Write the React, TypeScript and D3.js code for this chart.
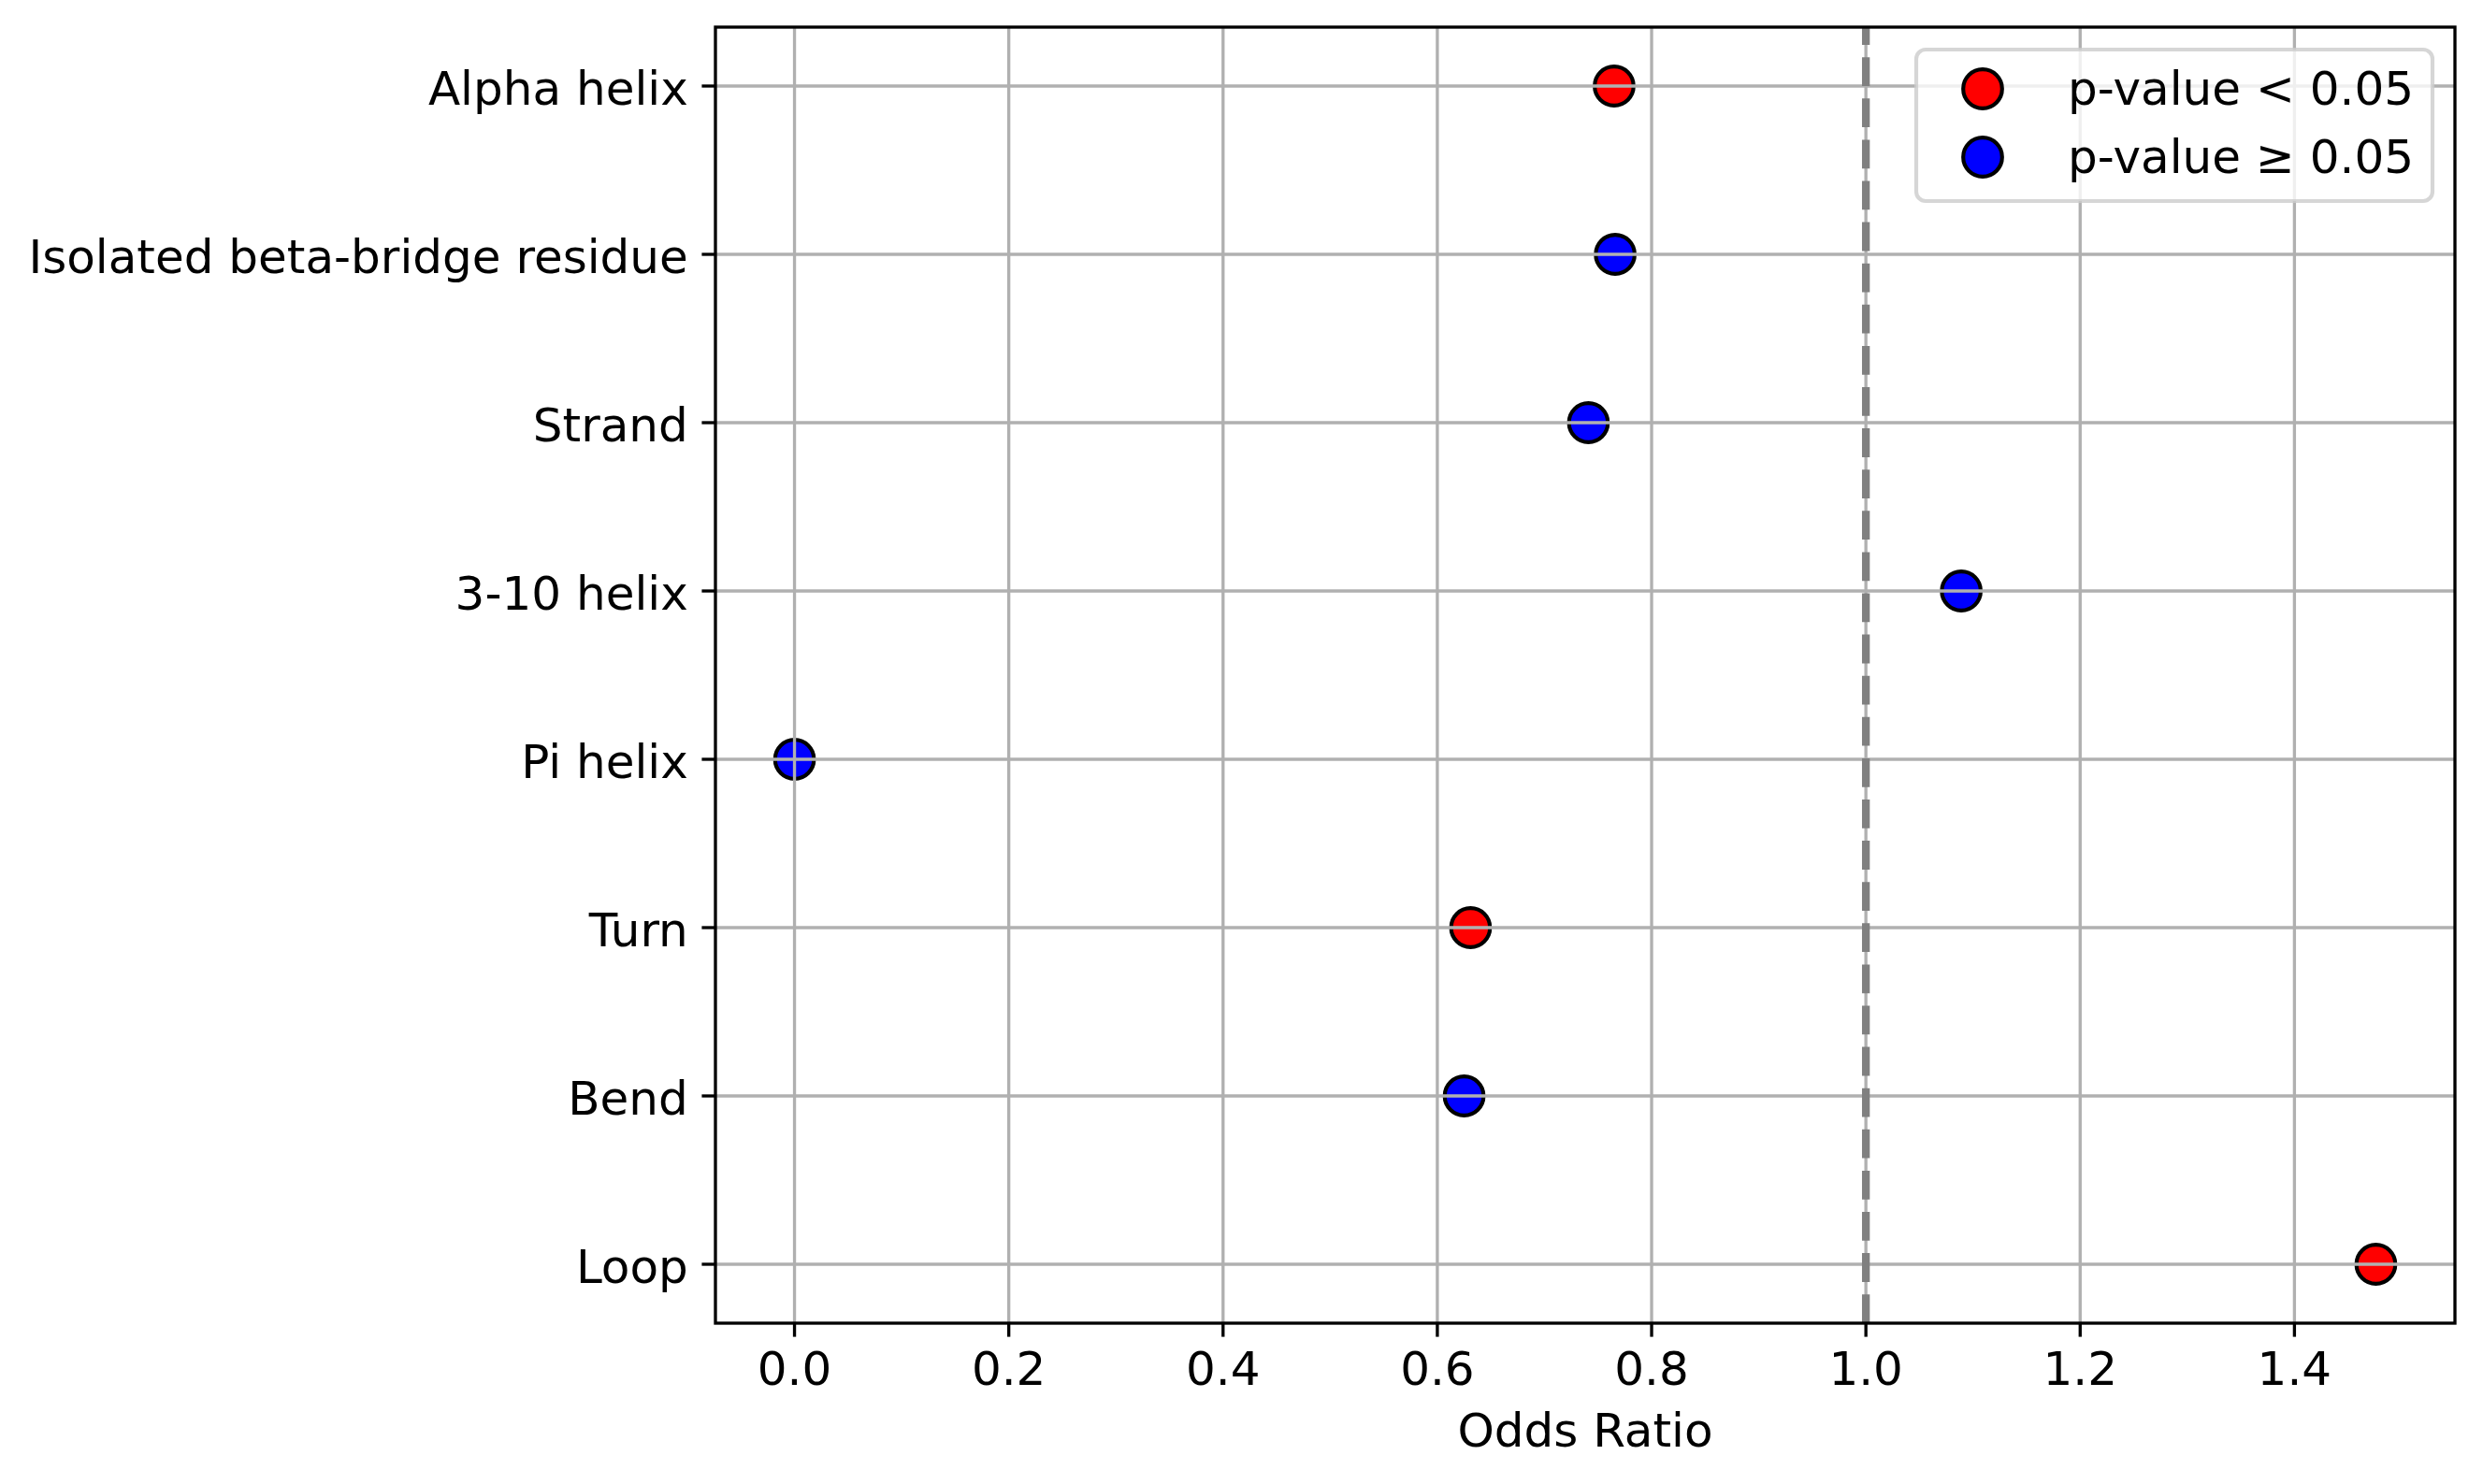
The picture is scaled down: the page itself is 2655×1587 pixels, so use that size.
import React, { useEffect } from "react";
import * as d3 from "d3";

const categories = [
  "Alpha helix",
  "Isolated beta-bridge residue",
  "Strand",
  "3-10 helix",
  "Pi helix",
  "Turn",
  "Bend",
  "Loop",
];
const oddsRatios = [0.765, 0.766, 0.741, 1.089, 0.0, 0.631, 0.625, 1.476];
const significant = [true, false, false, false, false, true, false, true];
const xTickValues = [0, 0.2, 0.4, 0.6, 0.8, 1.0, 1.2, 1.4];
const referenceValue = 1.0;
const legendLabels = ["p-value < 0.05", "p-value \u2265 0.05"];
const xLabel = "Odds Ratio";

const W = 2655;
const H = 1587;
const left = 765;
const right = 2625;
const top = 29;
const bottom = 1415;
const FONT = "DejaVu Sans";
const FS = 50;
const LW = 3.33;
const TICK = 14.6;
const R = 20.8;

export default function App() {
  useEffect(() => {
    document.body.style.margin = "0";
  }, []);

  const maxV = d3.max(oddsRatios) as number;
  const minV = Math.min(0, d3.min(oddsRatios) as number);
  const span = maxV - minV;
  const x = d3
    .scaleLinear()
    .domain([minV - 0.05 * span, maxV + 0.05 * span])
    .range([left, right]);
  const y = d3.scalePoint<string>().domain(categories).range([top, bottom]).padding(0.35);

  const legendX0 = 2049;
  const legendX1 = 2601;
  const legendY0 = 53;
  const legendY1 = 215;
  const legendRows = [95, 168];

  return (
    <svg
      width={W}
      height={H}
      style={{ position: "absolute", left: 0, top: 0, background: "#fff" }}
      fontFamily={FONT}
    >
      <rect x={0} y={0} width={W} height={H} fill="#fff" />
      {/* points */}
      {categories.map((c, i) => (
        <circle
          key={c}
          cx={x(oddsRatios[i])}
          cy={y(c)}
          r={R}
          fill={significant[i] ? "#ff0000" : "#0000ff"}
          stroke="#000"
          strokeWidth={4.17}
        />
      ))}
      {/* grid */}
      <g stroke="#b0b0b0" strokeWidth={LW}>
        {xTickValues.map((t) => (
          <line key={"gx" + t} x1={x(t)} x2={x(t)} y1={top} y2={bottom} />
        ))}
        {categories.map((c) => (
          <line key={"gy" + c} x1={left} x2={right} y1={y(c)} y2={y(c)} />
        ))}
      </g>
      {/* reference line (drawn bottom to top like matplotlib's axvline) */}
      <line
        x1={x(referenceValue)}
        x2={x(referenceValue)}
        y1={bottom}
        y2={top}
        stroke="#808080"
        strokeWidth={8.33}
        strokeDasharray="30.8 13.3"
      />
      {/* spines */}
      <rect
        x={left}
        y={top}
        width={right - left}
        height={bottom - top}
        fill="none"
        stroke="#000"
        strokeWidth={LW}
      />
      {/* x ticks */}
      {xTickValues.map((t) => (
        <g key={"xt" + t}>
          <line x1={x(t)} x2={x(t)} y1={bottom} y2={bottom + TICK} stroke="#000" strokeWidth={LW} />
          <text x={x(t)} y={1481} textAnchor="middle" fontSize={FS} fill="#000">
            {t.toFixed(1)}
          </text>
        </g>
      ))}
      {/* y ticks */}
      {categories.map((c) => (
        <g key={"yt" + c}>
          <line x1={left - TICK} x2={left} y1={y(c)} y2={y(c)} stroke="#000" strokeWidth={LW} />
          <text
            x={left - 2 * TICK}
            y={(y(c) as number) + 19.5}
            textAnchor="end"
            fontSize={FS}
            fill="#000"
          >
            {c}
          </text>
        </g>
      ))}
      <text x={(left + right) / 2} y={1547} textAnchor="middle" fontSize={FS} fill="#000">
        {xLabel}
      </text>
      {/* legend */}
      <rect
        x={legendX0}
        y={legendY0}
        width={legendX1 - legendX0}
        height={legendY1 - legendY0}
        rx={10}
        ry={10}
        fill="#fff"
        fillOpacity={0.8}
        stroke="#cccccc"
        strokeOpacity={0.8}
        strokeWidth={4.17}
      />
      {legendLabels.map((lab, i) => (
        <g key={lab}>
          <circle
            cx={2120}
            cy={legendRows[i]}
            r={R}
            fill={i === 0 ? "#ff0000" : "#0000ff"}
            stroke="#000"
            strokeWidth={4.17}
          />
          <text x={2211} y={legendRows[i] + 17} fontSize={FS} fill="#000">
            {lab}
          </text>
        </g>
      ))}
    </svg>
  );
}
